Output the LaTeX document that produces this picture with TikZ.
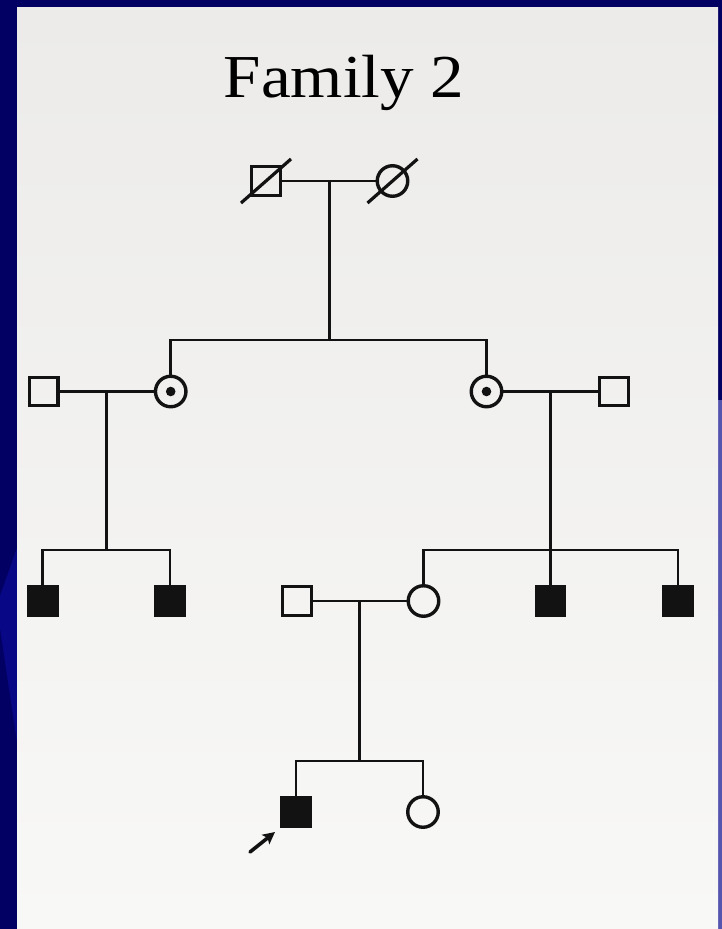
\documentclass[tikz,border=0pt]{standalone}
\usepackage{fontspec}
\setmainfont{Liberation Serif}
\usetikzlibrary{arrows.meta}

\definecolor{navy}{RGB}{3,0,100}
\definecolor{navylight}{RGB}{8,8,135}
\definecolor{edgeblue}{RGB}{85,85,175}
\definecolor{papertop}{RGB}{236,235,233}
\definecolor{paperlow}{RGB}{248,248,246}
\definecolor{ink}{RGB}{18,18,18}

\tikzset{
  sym/.style={draw=ink, line width=3.4pt, inner sep=0pt},
  male/.style={sym, rectangle, minimum size=28.5pt},
  female/.style={sym, circle, minimum size=30.5pt},
  affected/.style={fill=ink},
  link/.style={draw=ink, line width=2.8pt},
  slash/.style={draw=ink, line width=3.2pt},
}

\begin{document}
\begin{tikzpicture}[x=1pt,y=-1pt]
  \useasboundingbox (0,0) rectangle (722,929);

  % slide frame and paper
  \fill[navy] (0,0) rectangle (722,929);
  \fill[navylight] (17,548) -- (0,596) -- (0,628) -- (17,742) -- cycle;
  \fill[edgeblue] (718,400) rectangle (722,929);
  \shade[top color=papertop, bottom color=paperlow] (17,7) rectangle (718,929);

  % heading
  \node[anchor=base, inner sep=0pt] (title) at (344,97)
    {\scalebox{1.1}[1]{\fontsize{61}{61}\selectfont Family 2}};

  % generation I
  \node[male]   (I1) at (266,181) {};
  \node[female] (I2) at (392.5,181) {};
  \draw[slash] (I1.center) ++(-25,22) -- ++(50,-44);
  \draw[slash] (I2.center) ++(-25,22) -- ++(50,-44);
  \coordinate (m1) at (329.3,181);
  \coordinate (s1) at (329.3,340);

  % generation II
  \node[male]   (II1) at (43.7,391.5) {};
  \node[female] (II2) at (170.7,391.5) {};
  \node[female] (II3) at (486.5,391.5) {};
  \node[male]   (II4) at (614,391.5) {};
  \fill[ink] (II2.center) circle (4.8);
  \fill[ink] (II3.center) circle (4.8);
  \coordinate (m2) at (106.7,391.5);
  \coordinate (s2) at (106.7,550);
  \coordinate (m3) at (550.5,391.5);
  \coordinate (s3) at (550.5,550);

  % generation III
  \node[male, affected] (III1) at (42.7,601) {};
  \node[male, affected] (III2) at (170,601) {};
  \node[male]           (III3) at (297,601) {};
  \node[female]         (III4) at (423.5,601) {};
  \node[male, affected] (III5) at (550.5,601) {};
  \node[male, affected] (III6) at (678,601) {};
  \coordinate (m4) at (359.5,601);
  \coordinate (s4) at (359.5,761);

  % generation IV
  \node[male, affected] (IV1) at (296,812) {};
  \node[female]         (IV2) at (423,812) {};

  % marriages and lines of descent
  \draw[link] (I1) -- (I2);
  \draw[link] (m1) -- (s1);
  \draw[link] (II2) |- (s1) -| (II3);

  \draw[link] (II1) -- (II2);
  \draw[link] (m2) -- (s2);
  \draw[link] (III1) |- (s2) -| (III2);

  \draw[link] (II3) -- (II4);
  \draw[link] (m3) -- (III5);
  \draw[link] (III4) |- (s3) -| (III6);

  \draw[link] (III3) -- (III4);
  \draw[link] (m4) -- (s4);
  \draw[link] (IV1) |- (s4) -| (IV2);

  % proband arrow
  \coordinate (pTail) at (250,852);
  \coordinate (pTip) at (275,832);
  \draw[ink, line width=3.6pt, line cap=round,
        -{Stealth[length=12pt, width=12pt, inset=2.5pt]}] (pTail) -- (pTip);
\end{tikzpicture}
\end{document}
